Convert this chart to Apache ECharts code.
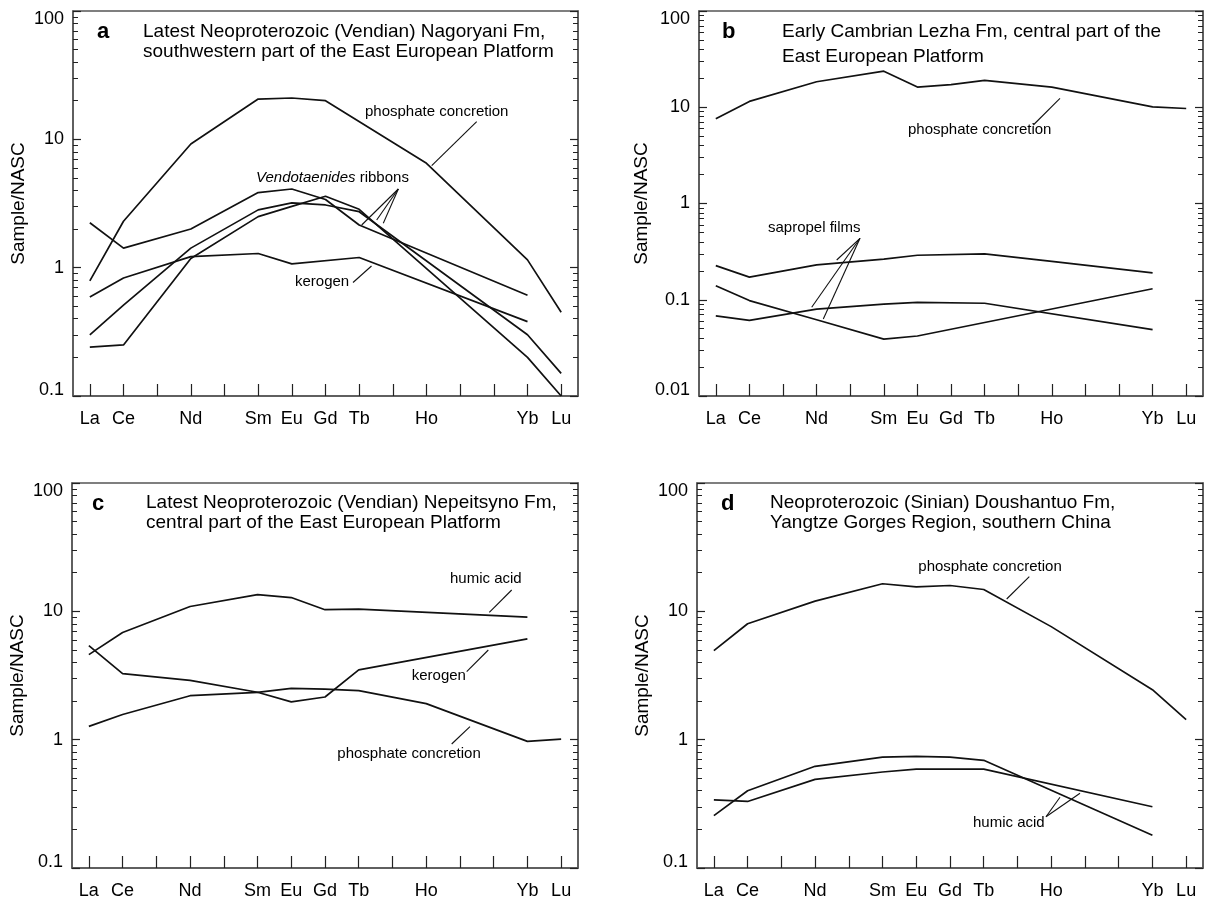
<!DOCTYPE html>
<html>
<head>
<meta charset="utf-8">
<script src="https://cdn.jsdelivr.net/npm/echarts@6/dist/echarts.min.js"></script>
<style>
  html, body { margin: 0; padding: 0; background: #fff; }
  #chart { width: 1210px; height: 902px; }
</style>
</head>
<body>
<div id="chart"></div>
<script>
// rare earth elements on the x axis (all 15 slots, only some are labelled)
const elements = ['La', 'Ce', 'Pr', 'Nd', 'Pm', 'Sm', 'Eu', 'Gd', 'Tb', 'Dy', 'Ho', 'Er', 'Tm', 'Yb', 'Lu'];
const shownElements = ['La', 'Ce', 'Nd', 'Sm', 'Eu', 'Gd', 'Tb', 'Ho', 'Yb', 'Lu'];
const yTicksAC = [0.1, 1, 10, 100];
const yTicksB = [0.01, 0.1, 1, 10, 100];

// panel a - Nagoryani Fm
const phosA    = [0.79, 2.3, null, 9.2, null, 20.6, 21, 20, null, null, 6.5, null, null, 1.15, 0.45];
const ribbonA1 = [2.24, 1.42, null, 2.0, null, 3.85, 4.1, 3.4, 2.15, null, null, null, null, 0.61, null];
const ribbonA2 = [0.24, 0.25, null, 1.18, null, 2.5, 3.0, 3.6, 2.85, null, null, null, null, 0.2, 0.1];
const ribbonA3 = [0.30, 0.51, null, 1.42, null, 2.82, 3.2, 3.08, 2.73, null, null, null, null, 0.30, 0.15];
const kerogenA = [0.59, 0.83, null, 1.22, null, 1.29, 1.07, null, 1.2, null, null, null, null, 0.38, null];

// panel b - Lezha Fm
const phosB = [7.6, 11.5, null, 18.4, null, 23.7, 16.2, 17.2, 19, null, 16.2, null, null, 10.1, 9.7];
const sapB1 = [0.226, 0.172, null, 0.23, null, 0.264, 0.29, null, 0.30, null, 0.25, null, null, 0.19, null];
const sapB2 = [0.14, 0.098, null, 0.062, null, 0.039, 0.042, null, 0.058, null, null, null, null, 0.13, null];
const sapB3 = [0.068, 0.061, null, 0.080, null, 0.090, 0.094, null, 0.092, null, null, null, null, 0.049, null];

// panel c - Nepeitsyno Fm
const humicC   = [4.6, 6.85, null, 10.9, null, 13.5, 12.8, 10.3, 10.4, null, null, null, null, 9.0, null];
const kerogenC = [1.27, 1.57, null, 2.2, null, 2.34, 1.97, 2.15, 3.5, null, null, null, null, 6.1, null];
const phosC    = [5.4, 3.27, null, 2.9, null, 2.34, 2.51, 2.48, 2.41, null, 1.91, null, null, 0.97, 1.01];

// panel d - Doushantuo Fm
const phosD   = [4.94, 8.0, null, 12.0, null, 16.4, 15.5, 15.9, 14.8, null, 7.6, null, null, 2.45, 1.43];
const humicD1 = [0.34, 0.33, null, 0.49, null, 0.56, 0.59, 0.59, 0.59, null, null, null, null, 0.30, null];
const humicD2 = [0.256, 0.40, null, 0.62, null, 0.73, 0.74, 0.73, 0.69, null, null, null, null, 0.18, null];

const FONT = '"Liberation Sans", Arial, sans-serif';
const INK = '#000';
const FRAME = '#555';

let myChart = echarts.init(document.getElementById('chart'));

const grids = [
	{left: 73, top: 11, width: 505, height: 385},
	{left: 699, top: 11, width: 504, height: 385},
	{left: 72, top: 483, width: 506, height: 385},
	{left: 697, top: 483, width: 506, height: 385}
].map(g => Object.assign(g, {show: true, borderColor: FRAME, borderWidth: 1.5, backgroundColor: 'transparent'}));

function xAxisFor(gridIndex) {
	return {
		type: 'category',
		gridIndex: gridIndex,
		data: elements,
		boundaryGap: true,
		axisLine: {show: true, lineStyle: {color: FRAME, width: 1.5}},
		axisTick: {show: true, inside: true, length: 12, alignWithLabel: true, interval: 0, lineStyle: {color: '#222', width: 1.2}},
		axisLabel: {
			interval: 0, margin: 14, fontSize: 18, color: INK, fontFamily: FONT,
			formatter: v => shownElements.indexOf(v) >= 0 ? v : ''
		},
		splitLine: {show: false}
	};
}

function sameDecade(a, b) {
	return Math.abs(Math.log10(a) - Math.log10(b)) < 1e-6;
}

function yAxisFor(gridIndex, ticks, side) {
	const lo = ticks[0], hi = ticks[ticks.length - 1];
	return {
		type: 'log',
		logBase: 10,
		gridIndex: gridIndex,
		position: side,
		min: lo,
		max: hi,
		name: side === 'left' ? 'Sample/NASC' : '',
		nameLocation: 'middle',
		nameGap: 45,
		nameTextStyle: {fontSize: 19, color: INK, fontFamily: FONT},
		axisLine: {show: true, lineStyle: {color: FRAME, width: 1.5}},
		axisTick: {show: true, inside: true, length: 8, lineStyle: {color: '#222', width: 1.2}},
		minorTick: {show: true, splitNumber: 9, length: 5, lineStyle: {color: '#222', width: 1}},
		axisLabel: {
			show: side === 'left', margin: 9, fontSize: 18, color: INK, fontFamily: FONT,
			formatter: v => {
				const s = String(+(+v).toPrecision(3));
				if (sameDecade(v, hi)) return '{top|' + s + '}';
				if (sameDecade(v, lo)) return '{bot|' + s + '}';
				return s;
			},
			rich: {
				top: {padding: [16, 0, 0, 0], fontSize: 18, fontFamily: FONT, color: INK},
				bot: {padding: [0, 0, 11, 0], fontSize: 18, fontFamily: FONT, color: INK}
			}
		},
		splitLine: {show: false},
		minorSplitLine: {show: false}
	};
}

const yAxes = [];
[yTicksAC, yTicksB, yTicksAC, yTicksAC].forEach((t, i) => {
	yAxes.push(yAxisFor(i, t, 'left'));
	yAxes.push(yAxisFor(i, t, 'right'));
});

function line(data, panel) {
	return {
		type: 'line',
		xAxisIndex: panel,
		yAxisIndex: panel * 2,
		data: data,
		symbol: 'none',
		connectNulls: true,
		silent: true,
		lineStyle: {color: '#111', width: 1.7}
	};
}

const series = [
	line(phosA, 0), line(ribbonA1, 0), line(ribbonA2, 0), line(ribbonA3, 0), line(kerogenA, 0),
	line(phosB, 1), line(sapB1, 1), line(sapB2, 1), line(sapB3, 1),
	line(humicC, 2), line(kerogenC, 2), line(phosC, 2),
	line(phosD, 3), line(humicD1, 3), line(humicD2, 3)
];

// annotation helpers
function txt(x, y, text, size, opts) {
	return {
		type: 'text', x: x, y: y, silent: true,
		style: Object.assign({text: text, fill: INK, font: (size || 15) + 'px ' + FONT, textVerticalAlign: 'middle', textAlign: 'left'}, opts || {})
	};
}
function seg(x1, y1, x2, y2) {
	return {type: 'line', silent: true, shape: {x1: x1, y1: y1, x2: x2, y2: y2}, style: {stroke: '#111', lineWidth: 1.1}};
}
function panelLetter(x, y, ch) {
	return txt(x, y, ch, 22, {font: 'bold 22px ' + FONT});
}

const graphics = [
	// panel a
	panelLetter(97, 32, 'a'),
	txt(143, 32, 'Latest Neoproterozoic (Vendian) Nagoryani Fm,', 19),
	txt(143, 52, 'southwestern part of the East European Platform', 19),
	txt(365, 112, 'phosphate concretion', 15),
	seg(476.7, 121.7, 431.7, 165.7),
	{
		type: 'text', x: 256, y: 178, silent: true,
		style: {
			text: '{i|Vendotaenides} ribbons', fill: INK, font: '15px ' + FONT, textVerticalAlign: 'middle',
			rich: {i: {fontStyle: 'italic', fontSize: 15, fontFamily: FONT, fill: INK}}
		}
	},
	seg(398.3, 189, 361.7, 225),
	seg(398.3, 189, 376.7, 220),
	seg(398.3, 189, 383.3, 223.3),
	txt(295, 282, 'kerogen', 15),
	seg(353, 282.5, 371.5, 266),

	// panel b
	panelLetter(722, 32, 'b'),
	txt(782, 32, 'Early Cambrian Lezha Fm, central part of the', 19),
	txt(782, 57, 'East European Platform', 19),
	txt(908, 130, 'phosphate concretion', 15),
	seg(1033.3, 125, 1060, 98.3),
	txt(768, 228, 'sapropel films', 15),
	seg(860, 238.3, 836.7, 260),
	seg(860, 238.3, 811.7, 307.3),
	seg(860, 238.3, 823.3, 319),

	// panel c
	panelLetter(92, 504, 'c'),
	txt(146, 503, 'Latest Neoproterozoic (Vendian) Nepeitsyno Fm,', 19),
	txt(146, 523, 'central part of the East European Platform', 19),
	txt(450, 579, 'humic acid', 15),
	seg(511.7, 590, 489.3, 612.3),
	txt(411.7, 676, 'kerogen', 15),
	seg(466.7, 671.7, 488.3, 650),
	txt(337.3, 754, 'phosphate concretion', 15),
	seg(451.7, 744, 470, 726.7),

	// panel d
	panelLetter(721, 504, 'd'),
	txt(770, 503, 'Neoproterozoic (Sinian) Doushantuo Fm,', 19),
	txt(770, 523, 'Yangtze Gorges Region, southern China', 19),
	txt(918.3, 567, 'phosphate concretion', 15),
	seg(1029.3, 576.7, 1006.7, 599),
	txt(973, 823, 'humic acid', 15),
	seg(1046, 816.7, 1060, 797.3),
	seg(1046, 816.7, 1080, 793.3)
];

myChart.setOption({
	animation: false,
	backgroundColor: '#fff',
	grid: grids,
	xAxis: [0, 1, 2, 3].map(xAxisFor),
	yAxis: yAxes,
	series: series,
	graphic: graphics
});
</script>
</body>
</html>
